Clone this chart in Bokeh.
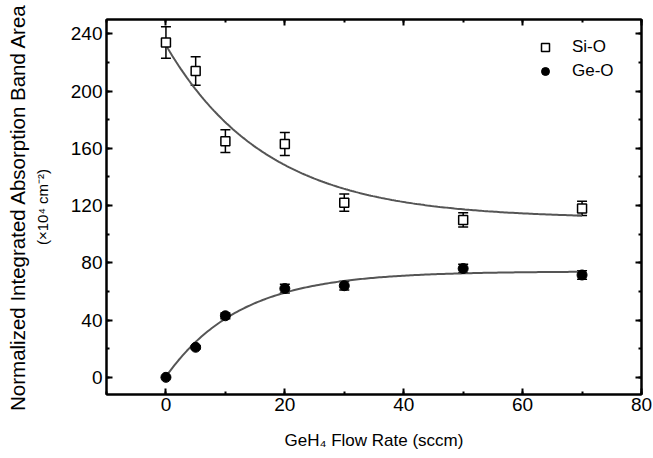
import numpy as np
from bokeh.plotting import figure
from bokeh.models import (ColumnDataSource, Whisker, TeeHead, Legend, LegendItem,
                          LinearAxis, SingleIntervalTicker, Range1d, Title,
                          CustomJSTickFormatter)
from bokeh.embed import file_html
from bokeh.resources import INLINE

# ---- data ----
flow = [0, 5, 10, 20, 30, 50, 70]
si_o = [234, 214, 165, 163, 122, 110, 118]
si_o_err = [11, 10, 8, 8, 6, 5, 5]
ge_o = [0, 21, 43, 62, 64, 76, 71.5]
ge_o_err = [0, 1, 2, 3, 3, 3, 3]

# exponential fit parameters: y0 + A*exp(-x/t)
si_fit = dict(y0=111.0, A=121.0, t=17.0)
ge_fit = dict(y0=74.0, A=-73.5, t=12.5)

FONT = "Liberation Sans"

p = figure(width=653, height=458, output_backend="svg", toolbar_location=None,
           x_range=Range1d(-10, 80), y_range=Range1d(-12, 250),
           min_border_left=106, min_border_right=12, min_border_top=19,
           min_border_bottom=64)
p.grid.visible = False
p.outline_line_color = "black"
p.outline_line_width = 2

xfit = np.linspace(0, 70, 200)
p.line(xfit, si_fit["y0"] + si_fit["A"] * np.exp(-xfit / si_fit["t"]),
       line_color="#555555", line_width=2)
p.line(xfit, ge_fit["y0"] + ge_fit["A"] * np.exp(-xfit / ge_fit["t"]),
       line_color="#555555", line_width=2)

src_si = ColumnDataSource(dict(x=flow, y=si_o,
                               lo=[a - b for a, b in zip(si_o, si_o_err)],
                               hi=[a + b for a, b in zip(si_o, si_o_err)]))
src_ge = ColumnDataSource(dict(x=flow, y=ge_o,
                               lo=[a - b for a, b in zip(ge_o, ge_o_err)],
                               hi=[a + b for a, b in zip(ge_o, ge_o_err)]))

for src in (src_si, src_ge):
    w = Whisker(base="x", lower="lo", upper="hi", source=src,
                line_color="black", line_width=1.5,
                upper_head=TeeHead(size=10, line_width=1.5, line_color="black"),
                lower_head=TeeHead(size=10, line_width=1.5, line_color="black"))
    p.add_layout(w)

r_si = p.scatter("x", "y", source=src_si, marker="square", size=9,
                 fill_color="white", line_color="black", line_width=1.5)
r_ge = p.scatter("x", "y", source=src_ge, marker="circle", size=10,
                 fill_color="black", line_color="black")

legend = Legend(items=[LegendItem(label="Si-O", renderers=[r_si]),
                       LegendItem(label="Ge-O", renderers=[r_ge])],
                location=(429, 313), padding=0, margin=0, spacing=4,
                glyph_width=20, glyph_height=20, label_height=20,
                label_standoff=17, border_line_color=None,
                background_fill_alpha=0, label_text_color="black",
                label_text_font=FONT, label_text_font_size="17px")
p.add_layout(legend, "center")

bottom = p.below[0]
left = p.left[0]

def style(ax):
    ax.axis_line_width = 2
    ax.axis_line_color = "black"
    ax.major_tick_in = 6
    ax.major_tick_out = 0
    ax.minor_tick_in = 3
    ax.minor_tick_out = 0
    ax.major_tick_line_width = 2
    ax.minor_tick_line_width = 2
    ax.major_tick_line_color = "black"
    ax.minor_tick_line_color = "black"
    ax.major_label_text_font = FONT
    ax.major_label_text_font_size = "19px"
    ax.major_label_text_color = "black"
    ax.axis_label_text_color = "black"
    ax.axis_label_text_font = FONT
    ax.axis_label_text_font_style = "normal"

bottom.ticker = SingleIntervalTicker(interval=20, num_minor_ticks=2)
left.ticker = SingleIntervalTicker(interval=40, num_minor_ticks=2)
style(bottom)
style(left)
bottom.major_label_standoff = 3
left.major_label_standoff = 4

top = LinearAxis(ticker=SingleIntervalTicker(interval=20, num_minor_ticks=2),
                 formatter=CustomJSTickFormatter(code="return ''"))
style(top)
top.major_label_standoff = 0
p.add_layout(top, "above")
right = LinearAxis(ticker=SingleIntervalTicker(interval=40, num_minor_ticks=2),
                   formatter=CustomJSTickFormatter(code="return ''"))
style(right)
right.major_label_standoff = 0
p.add_layout(right, "right")

bottom.axis_label = "GeH\u2084 Flow Rate (sccm)"
bottom.axis_label_text_font_size = "17px"
bottom.axis_label_standoff = 17

left.axis_label = "(\u00d710\u2074 cm\u207b\u00b2)"
left.axis_label_text_font_size = "15px"
left.axis_label_standoff = 17

p.add_layout(Title(text="Normalized Integrated Absorption Band Area",
                   align="center", text_font=FONT, text_font_size="20.5px",
                   text_font_style="normal", text_color="black", standoff=3), "left")

open("out.html", "w").write(file_html(p, INLINE))
